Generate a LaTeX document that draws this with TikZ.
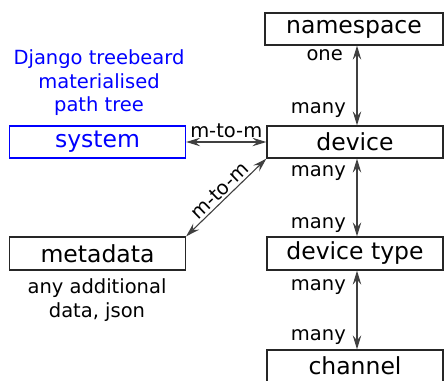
\documentclass[tikz,border=0pt]{standalone}
\usepackage{fontspec}
\setmainfont{DejaVu Sans}
\usetikzlibrary{arrows.meta}
\begin{document}
\begin{tikzpicture}[x=1pt,y=-1pt,
  box/.style={draw=black!85, line width=1.3pt, rectangle, minimum width=176pt, minimum height=32pt, inner sep=0pt, font=\fontsize{23.5}{26}\selectfont},
  lbl/.style={font=\fontsize{19.5}{23.5}\selectfont, inner sep=0pt},
  tip/.style={Stealth[length=14pt,width=8.5pt,inset=5pt]},
  conn/.style={draw=black!75, line width=1.1pt, {Stealth[length=14pt,width=8.5pt,inset=5pt]}-{Stealth[length=14pt,width=8.5pt,inset=5pt]}}]
\useasboundingbox (0,0) rectangle (444,380);
\begin{scope}
\clip (0,0) rectangle (444,380);
\node[box, minimum width=178pt] (ns) at (354,29) {namespace};
\node[box] (dev) at (355,142) {device};
\node[box, draw=blue, text=blue] (sys) at (97.5,142) {system};
\node[box, minimum height=33pt] (meta) at (97.5,253.5) {metadata};
\node[box, minimum height=33pt] (dt) at (355,253.5) {device type};
\node[box] (ch) at (355,366) {channel};
\end{scope}
\node[lbl, text=blue, align=center] (dj) at (99,83) {Django treebeard\\materialised\\path tree};
\node[lbl, align=center] (any) at (97,300) {any additional\\data, json};
\draw[conn] ([xshift=3pt]ns.south) -- ([xshift=2pt]dev.north);
\draw[conn] ([xshift=2pt]dev.south) -- ([xshift=2pt]dt.north);
\draw[conn] ([xshift=2pt]dt.south) -- ([xshift=2pt]ch.north);
\draw[conn] (sys.east) -- node[lbl, above=4pt] (m1) {m-to-m} (dev.west);
\draw[conn] (meta.north east) -- node[lbl, sloped, above=2pt] (m2) {m-to-m} (dev.south west);
\node[lbl, anchor=east] (l1) at (343,55) {one};
\node[lbl, anchor=east] (l2) at (346,110) {many};
\node[lbl, anchor=east] (l3) at (346,173) {many};
\node[lbl, anchor=east] (l4) at (346,225) {many};
\node[lbl, anchor=east] (l5) at (346,287) {many};
\node[lbl, anchor=east] (l6) at (346,337) {many};
\end{tikzpicture}
\end{document}
